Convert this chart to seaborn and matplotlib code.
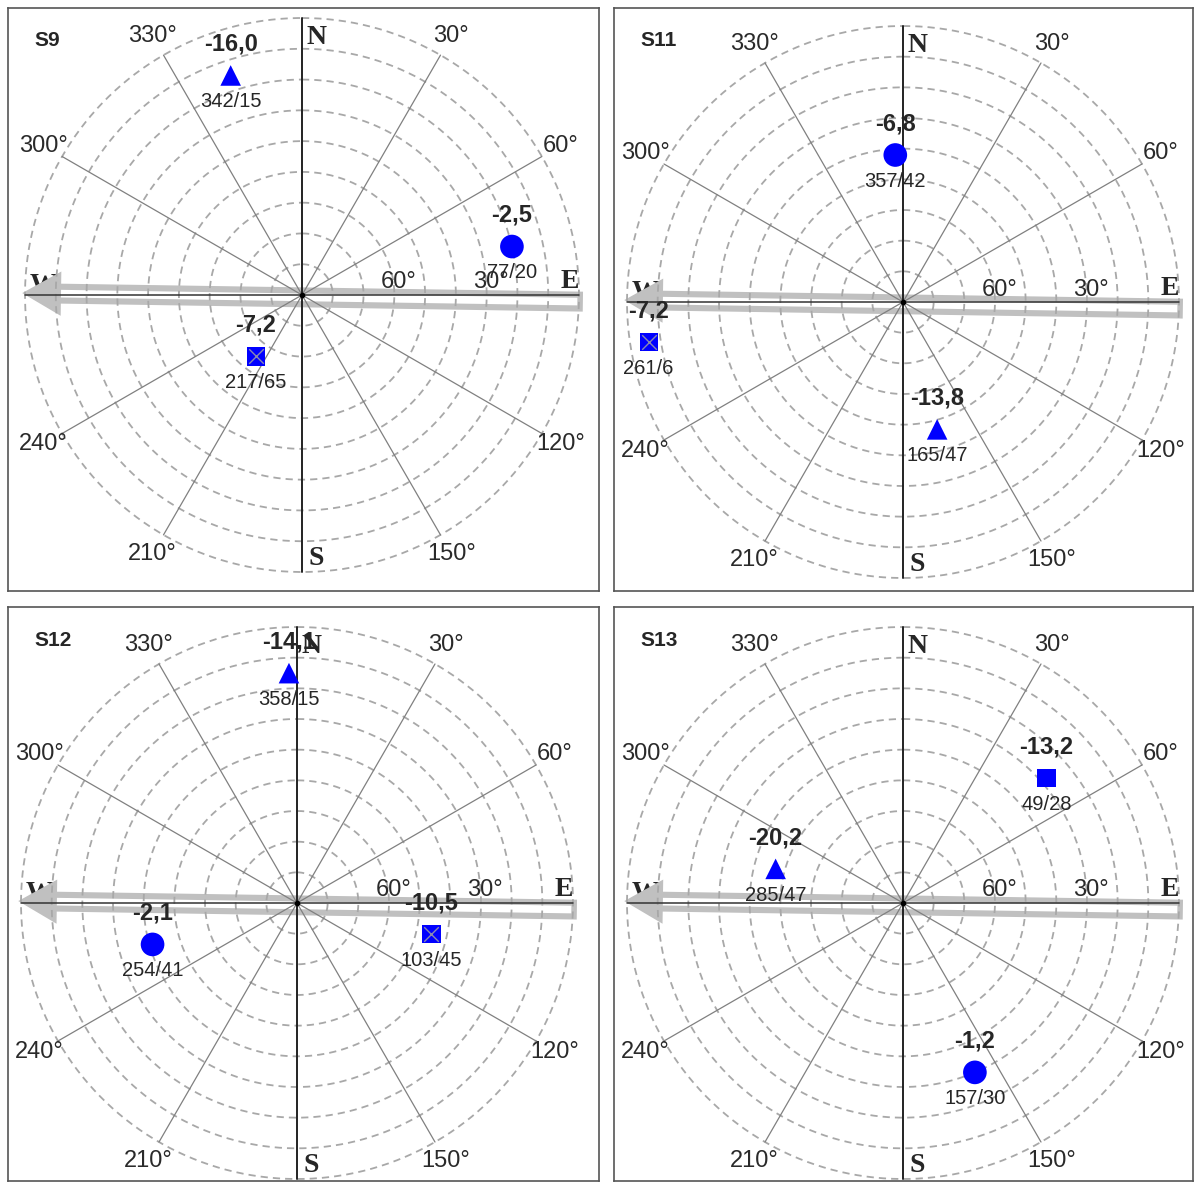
import numpy as np
import pandas as pd
import matplotlib.pyplot as plt
from matplotlib.patches import FancyArrow
import seaborn as sns

# Dados (azimute / mergulho de cada ponto)
panels = ['S9', 'S11', 'S12', 'S13']

s9_kind = ['triangle', 'circle', 'square_x']
s9_az = [342, 77, 217]
s9_plunge = [15, 20, 65]
s9_value = ['-16,0', '-2,5', '-7,2']

s11_kind = ['circle', 'square_x', 'triangle']
s11_az = [357, 261, 165]
s11_plunge = [42, 6, 47]
s11_value = ['-6,8', '-7,2', '-13,8']

s12_kind = ['triangle', 'circle', 'square_x']
s12_az = [358, 254, 103]
s12_plunge = [15, 41, 45]
s12_value = ['-14,1', '-2,1', '-10,5']

s13_kind = ['square', 'triangle', 'circle']
s13_az = [49, 285, 157]
s13_plunge = [28, 47, 30]
s13_value = ['-13,2', '-20,2', '-1,2']

spoke_angles = [30, 60, 120, 150, 210, 240, 300, 330]
ring_plunges = [0, 10, 20, 30, 40, 50, 60, 70, 80]
axis_plunge_labels = [60, 30]

rows = []
for p, kinds, az, pl, val in [
    ('S9', s9_kind, s9_az, s9_plunge, s9_value),
    ('S11', s11_kind, s11_az, s11_plunge, s11_value),
    ('S12', s12_kind, s12_az, s12_plunge, s12_value),
    ('S13', s13_kind, s13_az, s13_plunge, s13_value),
]:
    for k, a, d, v in zip(kinds, az, pl, val):
        rows.append({'panel': p, 'kind': k, 'az': a, 'plunge': d, 'value': v})
df = pd.DataFrame(rows)
df['theta'] = np.deg2rad(df['az'])
df['r'] = 90 - df['plunge']

# layout em pixels: caixa, centro, raio
layout = {
    'S9': ((8, 8, 599, 591), (302, 295), 277),
    'S11': ((614, 8, 1193, 591), (903, 302), 276),
    'S12': ((8, 607, 599, 1181), (297, 903), 276),
    'S13': ((614, 607, 1193, 1181), (903, 903), 276),
}

sns.set_style('white')
plt.rcParams['font.family'] = ['Liberation Sans', 'DejaVu Sans']

W, H = 1194, 1182
fig = plt.figure(figsize=(W / 100, H / 100), dpi=100)


def rect(x0, y0, x1, y1):
    return [x0 / W, 1 - y1 / H, (x1 - x0) / W, (y1 - y0) / H]


markers = {'circle': 'o', 'triangle': '^', 'square_x': 's', 'square': 's'}
sizes = {'circle': 290, 'triangle': 220, 'square_x': 170, 'square': 170}
blue = '#0000ff'
serif = ['Liberation Serif', 'DejaVu Serif']

for name in panels:
    (x0, y0, x1, y1), (cx, cy), R = layout[name]

    # caixa do painel
    bax = fig.add_axes(rect(x0, y0, x1, y1))
    bax.set_xlim((x0 - cx) / R, (x1 - cx) / R)
    bax.set_ylim((cy - y1) / R, (cy - y0) / R)
    bax.set_xticks([])
    bax.set_yticks([])
    for sp in bax.spines.values():
        sp.set_color('#555555')
        sp.set_linewidth(1.2)
    bax.text(26 / (x1 - x0), 1 - 33 / (y1 - y0), name, transform=bax.transAxes,
             fontsize=15, fontweight='bold', ha='left', va='center')

    # letras dos pontos cardeais
    bax.text(0.052, 0.93, 'N', family=serif, fontweight='bold', fontsize=20, ha='center', va='center')
    bax.text(0.052, -0.95, 'S', family=serif, fontweight='bold', fontsize=20, ha='center', va='center')
    bax.text(0.965, 0.05, 'E', family=serif, fontweight='bold', fontsize=20, ha='center', va='center')
    bax.text(-0.935, 0.035, 'W', family=serif, fontweight='bold', fontsize=20, ha='center', va='center', zorder=1)

    # seta cinza E -> W
    tail = np.array([1.014, -0.024])
    tip = np.array([-1.01, 0.007])
    d = tip - tail
    arr = FancyArrow(tail[0], tail[1], d[0], d[1], width=0.072, head_width=0.16,
                     head_length=0.14, length_includes_head=True,
                     fc='#c0c0c0', ec='none', zorder=2)
    bax.add_patch(arr)
    L = np.hypot(*d)
    t0, t1 = 0.02 / L, (L - 0.14) / L
    p0, p1 = tail + t0 * d, tail + t1 * d
    bax.plot([p0[0], p1[0]], [p0[1], p1[1]], color='white', lw=5.5, solid_capstyle='butt', zorder=3)

    # diagrama polar
    pax = fig.add_axes(rect(cx - R, cy - R, cx + R, cy + R), projection='polar')
    pax.patch.set_alpha(0)
    pax.set_theta_zero_location('N')
    pax.set_theta_direction(-1)
    pax.grid(False)
    pax.spines['polar'].set_visible(False)

    th = np.linspace(0, 2 * np.pi, 400)
    for pl in ring_plunges:
        pax.plot(th, np.full_like(th, 90 - pl), color='#a8a8a8', lw=1.3,
                 linestyle=(0, (4.0, 2.8)), zorder=1, clip_on=False)
    for a in spoke_angles:
        t = np.deg2rad(a)
        pax.plot([t, t], [0, 90], color='#808080', lw=0.9, zorder=2, clip_on=False)
        pax.text(t, 97, f'{a}°', fontsize=17, color='#2a2a2a', ha='center', va='center')
    for a in [0, 180]:
        t = np.deg2rad(a)
        pax.plot([t, t], [0, 90], color='#222222', lw=1.4, zorder=2, clip_on=False)
    for a in [90, 270]:
        t = np.deg2rad(a)
        pax.plot([t, t], [0, 90], color='#333333', lw=1.1, zorder=2, clip_on=False)
    pax.plot([0], [0], marker='o', ms=3, color='black', zorder=3)
    for pl in axis_plunge_labels:
        pax.annotate(f'{pl}°', (np.pi / 2, 90 - pl), xytext=(3, 9), textcoords='offset points',
                     fontsize=17, color='#2a2a2a', ha='center', va='center')

    sub = df[df['panel'] == name]
    sns.scatterplot(data=sub, x='theta', y='r', style='kind', markers=markers,
                    size='kind', sizes=sizes, color=blue, linewidth=0,
                    legend=False, ax=pax, zorder=5)
    sx = sub[sub['kind'] == 'square_x']
    if len(sx):
        sns.scatterplot(data=sx, x='theta', y='r', marker='x', s=110, color='#8a8ab0',
                        linewidth=1, legend=False, ax=pax, zorder=6)
    for _, row in sub.iterrows():
        pax.annotate(row['value'], (row['theta'], row['r']), xytext=(0, 22.5),
                     textcoords='offset points', fontsize=17, fontweight='bold',
                     ha='center', va='center', zorder=7)
        pax.annotate(f"{row['az']}/{row['plunge']}", (row['theta'], row['r']), xytext=(0, -19),
                     textcoords='offset points', fontsize=14.5, ha='center', va='center', zorder=7)

    pax.set_ylim(0, 90)
    pax.set_xticks([])
    pax.set_yticks([])
    pax.set_xlabel('')
    pax.set_ylabel('')

fig.savefig('out.png', dpi=100)
